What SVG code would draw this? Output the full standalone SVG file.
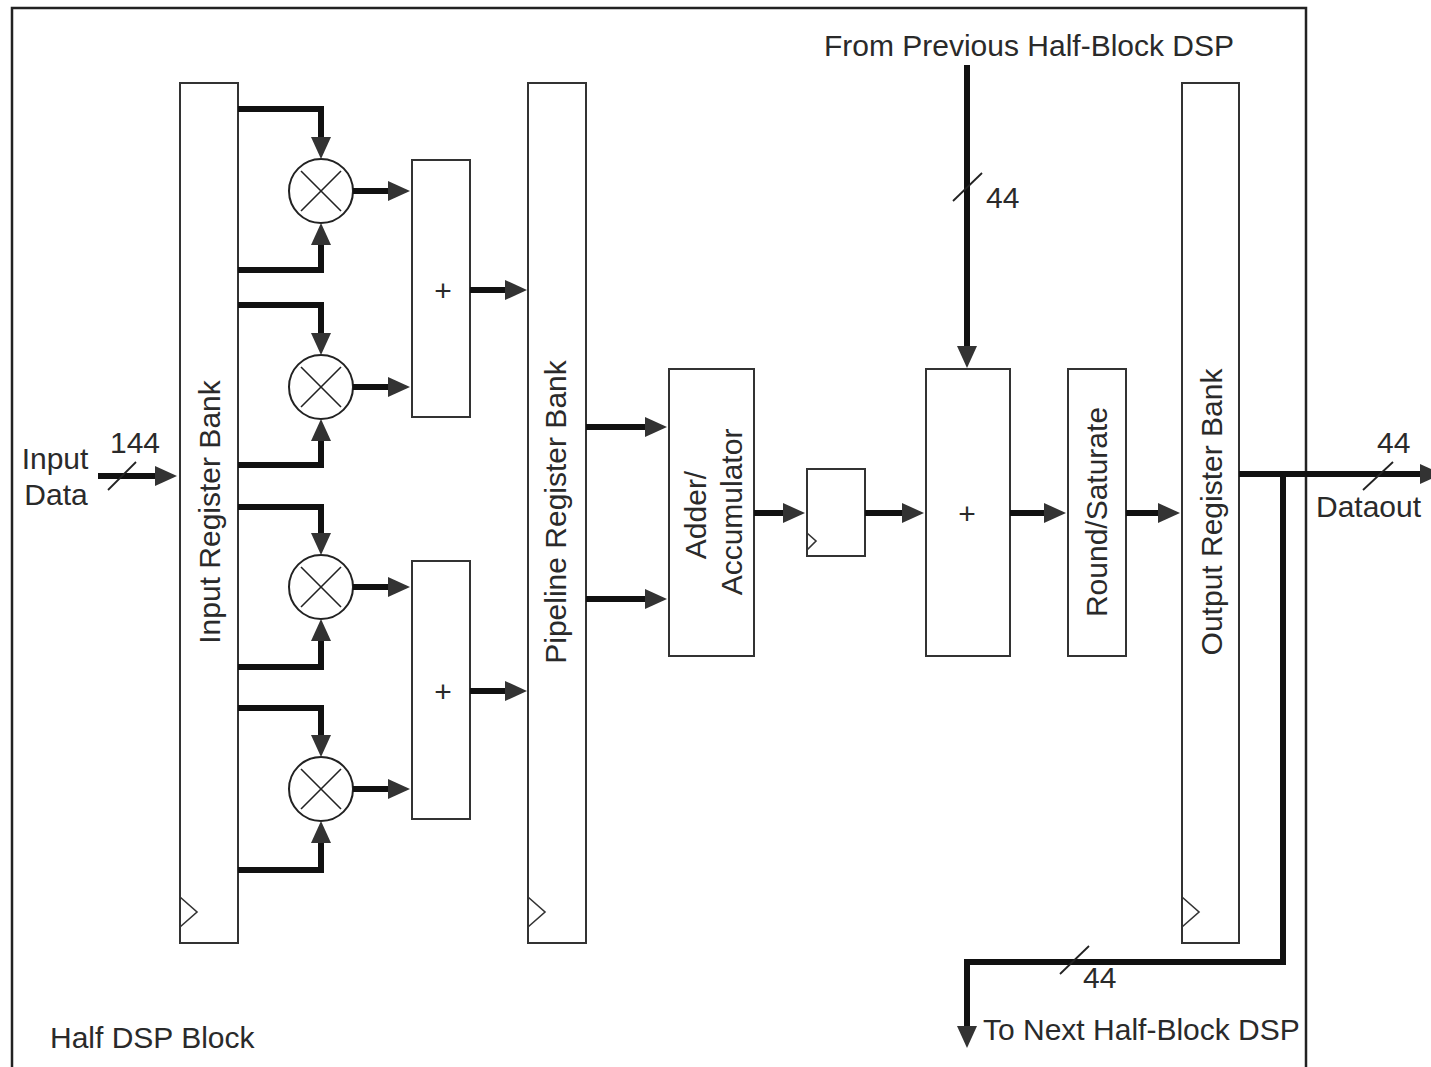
<svg xmlns="http://www.w3.org/2000/svg" width="1431" height="1067" viewBox="0 0 1431 1067">
<style>
.box{fill:#fff;stroke:#333;stroke-width:2}
.clk{fill:none;stroke:#333;stroke-width:1.6}
.mul{fill:#fff;stroke:#222;stroke-width:2}
.x{stroke:#222;stroke-width:1.6}
.bus{fill:none;stroke:#111;stroke-width:6;stroke-linejoin:miter;marker-end:url(#ah)}
.sl{stroke:#222;stroke-width:1.8}
text{font-family:"Liberation Sans",Arial,Helvetica,sans-serif;fill:#2a2a2a;font-size:30px}
.plus{font-size:30px;text-anchor:middle}
.mid{text-anchor:middle}
</style>
<defs>
<marker id="ah" markerUnits="userSpaceOnUse" markerWidth="22" markerHeight="20" viewBox="0 0 22 20" refX="10" refY="10" orient="auto">
<path d="M0,0 L22,10 L0,20 z" fill="#333"/>
</marker>
</defs>

<g id="frame">
<path d="M12,1070 V8 H1306 V1070" fill="none" stroke="#222" stroke-width="2.5"/>
<text x="50" y="1048">Half DSP Block</text>
</g>

<g id="input-register-bank">
<rect class="box" x="180" y="83" width="58" height="860"/>
<polyline class="clk" points="180,897 197,912 180,927"/>
<text class="mid" transform="translate(220,512) rotate(-90)">Input Register Bank</text>
</g>

<g id="mult1"><circle class="mul" cx="321" cy="191" r="32"/><line class="x" x1="301" y1="171" x2="341" y2="211"/><line class="x" x1="341" y1="171" x2="301" y2="211"/></g>
<g id="mult2"><circle class="mul" cx="321" cy="387" r="32"/><line class="x" x1="301" y1="367" x2="341" y2="407"/><line class="x" x1="341" y1="367" x2="301" y2="407"/></g>
<g id="mult3"><circle class="mul" cx="321" cy="587" r="32"/><line class="x" x1="301" y1="567" x2="341" y2="607"/><line class="x" x1="341" y1="567" x2="301" y2="607"/></g>
<g id="mult4"><circle class="mul" cx="321" cy="789" r="32"/><line class="x" x1="301" y1="769" x2="341" y2="809"/><line class="x" x1="341" y1="769" x2="301" y2="809"/></g>

<g id="adder1"><rect class="box" x="412" y="160" width="58" height="257"/><text class="plus" x="443" y="301">+</text></g>
<g id="adder2"><rect class="box" x="412" y="561" width="58" height="258"/><text class="plus" x="443" y="702">+</text></g>

<g id="pipeline-register-bank">
<rect class="box" x="528" y="83" width="58" height="860"/>
<polyline class="clk" points="528,897 545,912 528,927"/>
<text class="mid" transform="translate(566,512) rotate(-90)">Pipeline Register Bank</text>
</g>

<g id="adder-accumulator">
<rect class="box" x="669" y="369" width="85" height="287"/>
<text class="mid" transform="translate(706,515) rotate(-90)">Adder/</text>
<text class="mid" transform="translate(742,512) rotate(-90)">Accumulator</text>
</g>

<g id="flipflop">
<rect class="box" x="807" y="469" width="58" height="87"/>
<polyline class="clk" points="807,533 816,541 807,550"/>
</g>

<g id="adder3"><rect class="box" x="926" y="369" width="84" height="287"/><text class="plus" x="967" y="524">+</text></g>

<g id="round-saturate">
<rect class="box" x="1068" y="369" width="58" height="287"/>
<text class="mid" transform="translate(1107,512) rotate(-90)">Round/Saturate</text>
</g>

<g id="output-register-bank">
<rect class="box" x="1182" y="83" width="57" height="860"/>
<polyline class="clk" points="1182,897 1199,912 1182,927"/>
<text class="mid" transform="translate(1222,512) rotate(-90)">Output Register Bank</text>
</g>

<g id="connectors">
<path class="bus" d="M98,476 H165"/>
<line class="sl" x1="108" y1="490" x2="136" y2="462"/>
<path class="bus" d="M238,109 H321 V147"/>
<path class="bus" d="M238,270 H321 V235"/>
<path class="bus" d="M238,305 H321 V343"/>
<path class="bus" d="M238,465 H321 V431"/>
<path class="bus" d="M238,507 H321 V543"/>
<path class="bus" d="M238,667 H321 V631"/>
<path class="bus" d="M238,708 H321 V745"/>
<path class="bus" d="M238,870 H321 V833"/>
<path class="bus" d="M353,191 H398"/>
<path class="bus" d="M353,387 H398"/>
<path class="bus" d="M353,587 H398"/>
<path class="bus" d="M353,789 H398"/>
<path class="bus" d="M470,290 H515"/>
<path class="bus" d="M470,691 H515"/>
<path class="bus" d="M586,427 H655"/>
<path class="bus" d="M586,599 H655"/>
<path class="bus" d="M754,513 H793"/>
<path class="bus" d="M865,513 H912"/>
<path class="bus" d="M967,65 V356"/>
<line class="sl" x1="953" y1="201" x2="982" y2="173"/>
<path class="bus" d="M1010,513 H1054"/>
<path class="bus" d="M1126,513 H1168"/>
<path class="bus" d="M1239,474 H1430"/>
<line class="sl" x1="1363" y1="490" x2="1393" y2="462"/>
<path class="bus" d="M1283,474 V962 H967 V1036"/>
<line class="sl" x1="1060" y1="974" x2="1089" y2="946"/>
</g>

<g id="labels">
<text class="mid" x="55" y="469">Input</text>
<text class="mid" x="56" y="505">Data</text>
<text x="110" y="453">144</text>
<text class="mid" x="1029" y="56">From Previous Half-Block DSP</text>
<text x="986" y="208">44</text>
<text x="1377" y="453">44</text>
<text x="1316" y="517">Dataout</text>
<text x="1083" y="988">44</text>
<text x="983" y="1040">To Next Half-Block DSP</text>
</g>
</svg>
